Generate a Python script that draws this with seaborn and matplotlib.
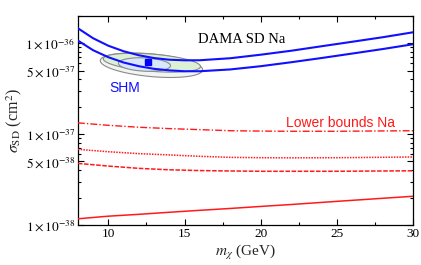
import numpy as np
import pandas as pd
import seaborn as sns
import matplotlib.pyplot as plt
from matplotlib.ticker import FixedLocator, FixedFormatter, MultipleLocator

sns.set_theme(style="ticks")
plt.rcParams['font.family'] = ['Liberation Serif', 'DejaVu Serif']
plt.rcParams['mathtext.fontset'] = 'stix'

# DAMA SD Na allowed band (blue curves)
mass_band = [8, 9, 10, 11, 12, 13, 14, 15, 16, 18, 20, 22, 24, 26, 28, 30]
band_upper = [1.462e-36, 1.135e-36, 9.39e-37, 8.17e-37, 7.38e-37, 6.87e-37, 6.59e-37, 6.49e-37,
              6.50e-37, 6.84e-37, 7.48e-37, 8.27e-37, 9.27e-37, 1.038e-36, 1.164e-36, 1.32e-36]
band_lower = [1.071e-36, 8.38e-37, 7.02e-37, 6.14e-37, 5.59e-37, 5.23e-37, 5.03e-37, 4.92e-37,
              4.92e-37, 5.15e-37, 5.59e-37, 6.18e-37, 6.88e-37, 7.70e-37, 8.63e-37, 9.75e-37]

# lower bounds Na (red curves)
mass_lb = [8, 10, 12, 14, 16, 18, 20, 22, 25, 30]
lb_dashdot = [1.33e-37, 1.25e-37, 1.19e-37, 1.15e-37, 1.12e-37, 1.09e-37, 1.08e-37, 1.075e-37, 1.075e-37, 1.09e-37]
lb_dotted = [6.8e-38, 6.4e-38, 6.1e-38, 5.9e-38, 5.7e-38, 5.55e-38, 5.5e-38, 5.48e-38, 5.5e-38, 5.6e-38]
lb_dashed = [4.76e-38, 4.45e-38, 4.2e-38, 4.05e-38, 3.97e-38, 3.93e-38, 3.9e-38, 3.9e-38, 3.9e-38, 3.95e-38]
lb_solid = [1.17e-38, 1.25e-38, 1.31e-38, 1.38e-38, 1.45e-38, 1.52e-38, 1.6e-38, 1.68e-38, 1.82e-38, 2.07e-38]

# SHM best fit regions (center, semi-axes in GeV / decades, tilt)
region_m = [12.83, 12.86, 12.37]
region_logsig = [-36.242, -36.214, -36.234]
region_a = [3.36, 3.19, 1.71]
region_b = [0.125, 0.095, 0.073]
region_c = [-0.050, -0.042, -0.013]
region_fill = ['#f1f5f1', '#dcf1d3', '#d8e7fb']
best_m = 12.61
best_sig = 6.18e-37

yticks = [1e-38, 5e-38, 1e-37, 5e-37, 1e-36]
ytick_labels = [r'$1\times10^{-38}$', r'$5\times10^{-38}$', r'$1\times10^{-37}$',
                r'$5\times10^{-37}$', r'$1\times10^{-36}$']
xticks = [10, 15, 20, 25, 30]

fig = plt.figure(figsize=(4.21, 2.65), dpi=100)
ax = fig.add_axes([0.185, 0.151, 0.796, 0.789])
ax.set_yscale('log')

t = np.linspace(0, 2 * np.pi, 200)
for mc, lc, a, b, c, col in zip(region_m, region_logsig, region_a, region_b, region_c, region_fill):
    em = mc + a * np.cos(t)
    es = 10 ** (lc + b * np.sin(t) + c * np.cos(t))
    ax.fill(em, es, facecolor=col, edgecolor='#8a8a8a', lw=0.8, zorder=2)

ax.plot([best_m], [best_sig], marker='s', color='#0000ff', ms=5, zorder=5)

df_band = pd.DataFrame({'m': mass_band, 'up': band_upper, 'lo': band_lower})
sns.lineplot(data=df_band, x='m', y='up', ax=ax, color='#1010ff', lw=1.5, zorder=4)
sns.lineplot(data=df_band, x='m', y='lo', ax=ax, color='#1010ff', lw=1.5, zorder=4)

df_lb = pd.DataFrame({'m': mass_lb, 'dd': lb_dashdot, 'dt': lb_dotted, 'ds': lb_dashed, 'so': lb_solid})
red = '#ff1a1a'
sns.lineplot(data=df_lb, x='m', y='dd', ax=ax, color=red, lw=1.0, zorder=3).lines[-1].set_dashes([5, 1.5, 1, 1.5])
sns.lineplot(data=df_lb, x='m', y='dt', ax=ax, color=red, lw=1.1, zorder=3).lines[-1].set_dashes([1, 0.8])
sns.lineplot(data=df_lb, x='m', y='ds', ax=ax, color=red, lw=1.1, zorder=3).lines[-1].set_dashes([3, 1])
sns.lineplot(data=df_lb, x='m', y='so', ax=ax, color=red, lw=1.1, zorder=3)

ax.set_xlim(8, 30)
ax.set_ylim(1e-38, 2e-36)
ax.xaxis.set_major_locator(FixedLocator(xticks))
ax.xaxis.set_minor_locator(MultipleLocator(2.5))
ax.yaxis.set_major_locator(FixedLocator(yticks))
ax.yaxis.set_major_formatter(FixedFormatter(ytick_labels))
ax.yaxis.set_minor_locator(FixedLocator([k * 10.0 ** e for e in (-38, -37, -36) for k in range(2, 10)]))
ax.yaxis.set_minor_formatter(FixedFormatter([]))
ax.tick_params(which='both', direction='in', top=True, right=True, labelsize=9.5, pad=2,
               width=0.8, colors='black')
ax.tick_params(which='major', length=4)
ax.tick_params(which='minor', length=2)
for s in ax.spines.values():
    s.set_linewidth(0.9)
    s.set_color('black')

ax.set_xlabel(r'$m_\chi$ (GeV)', fontsize=11, labelpad=2)
ax.set_ylabel(r'$\sigma_{\rm SD}$ (cm$^2$)', fontsize=11.5, labelpad=1)

ax.text(0.358, 0.87, 'DAMA SD Na', transform=ax.transAxes, fontsize=10.5, color='black')
ax.text(0.095, 0.635, 'SHM', transform=ax.transAxes, fontsize=10, color='#1010ff', family='Liberation Sans')
ax.text(0.62, 0.47, 'Lower bounds Na', transform=ax.transAxes, fontsize=10, color=red, family='Liberation Sans')

fig.savefig('out.png', dpi=100)
